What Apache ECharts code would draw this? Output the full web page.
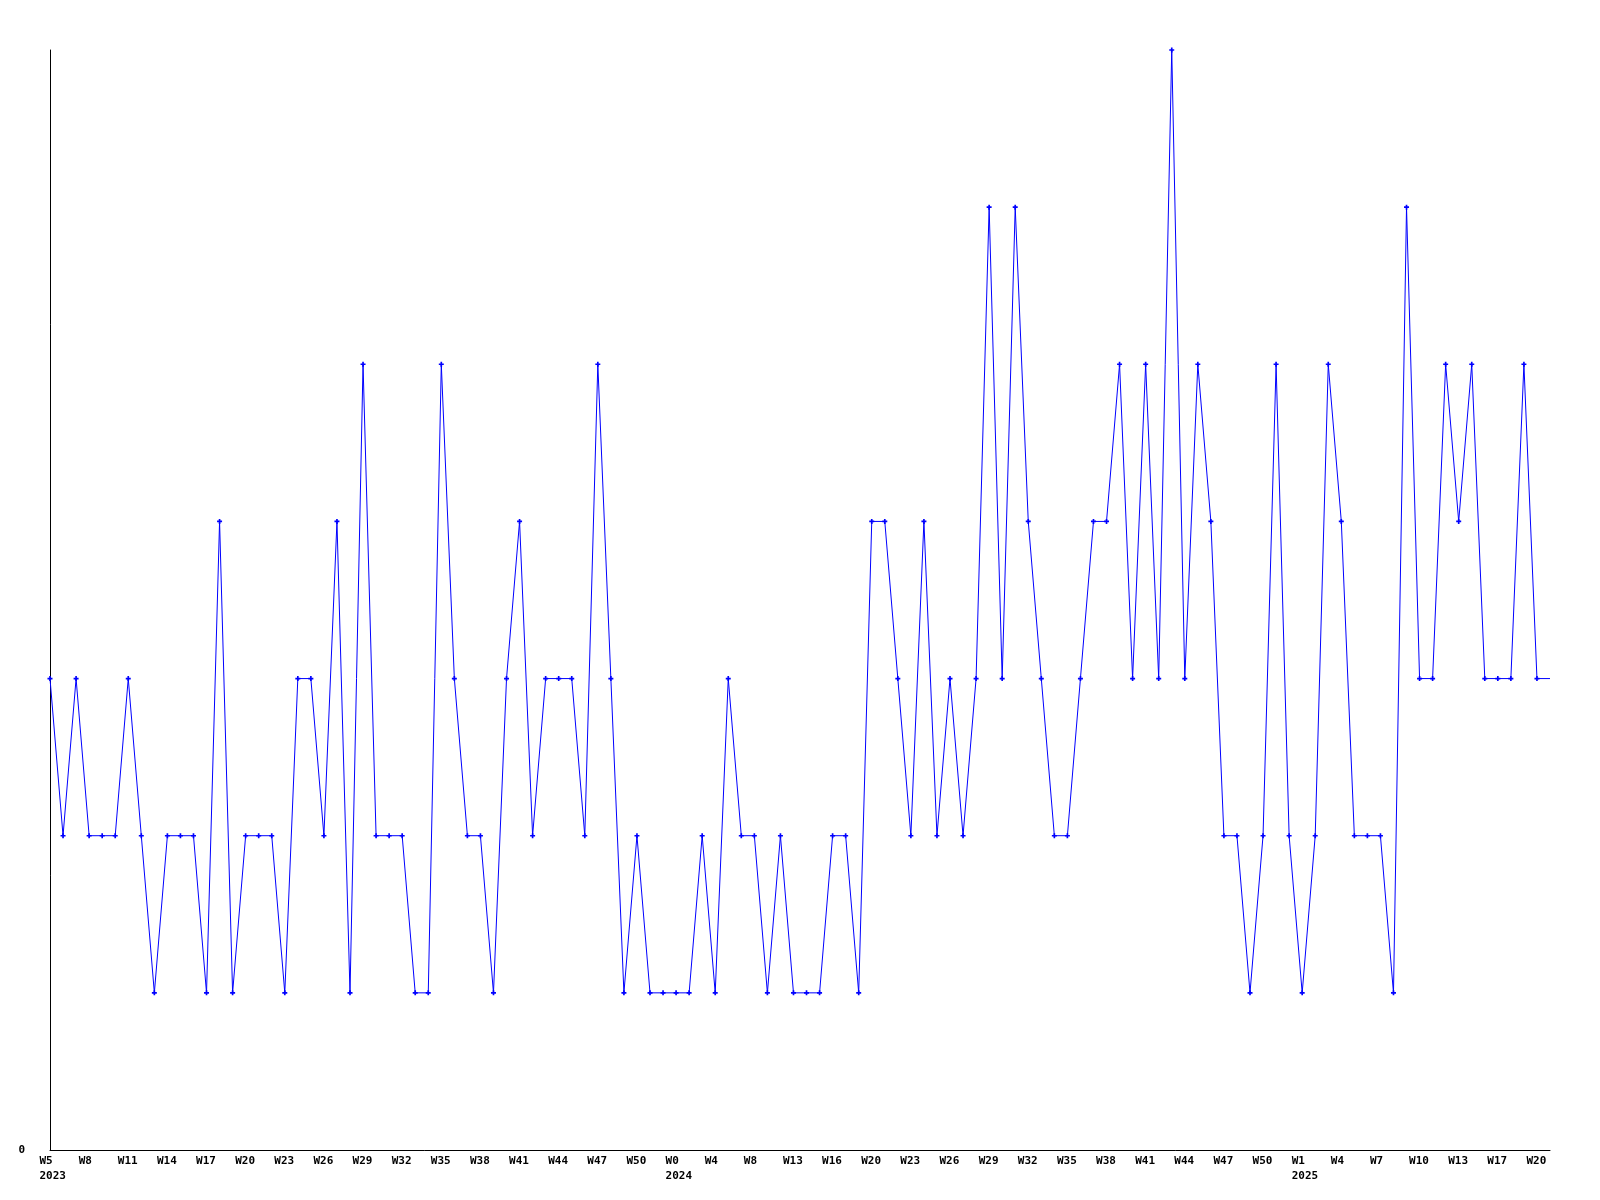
<!DOCTYPE html>
<html>
<head>
<meta charset="utf-8">
<script src="https://cdn.jsdelivr.net/npm/echarts@6/dist/echarts.min.js"></script>
<style>html,body{margin:0;padding:0;background:#fff}#c{width:1600px;height:1200px}</style>
</head>
<body>
<div id="c"></div>
<script>
// Week labels per year (categorical x axis)
var weeks2023 = ['W5','W6','W7','W8','W9','W10','W11','W12','W13','W14','W15','W16','W17','W18','W19','W20','W21','W22','W23','W24','W25','W26','W27','W28','W29','W30','W31','W32','W33','W34','W35','W36','W37','W38','W39','W40','W41','W42','W43','W44','W45','W46','W47','W48','W49','W50','W51','W52'];
var weeks2024 = ['W0','W1','W2','W4','W5','W6','W8','W10','W11','W13','W14','W15','W16','W17','W18','W20','W21','W22','W23','W24','W25','W26','W27','W28','W29','W30','W31','W32','W33','W34','W35','W36','W37','W38','W39','W40','W41','W42','W43','W44','W45','W46','W47','W48','W49','W50','W51','W52'];
var weeks2025 = ['W1','W2','W3','W4','W5','W6','W7','W8','W9','W10','W11','W12','W13','W14','W16','W17','W18','W19','W20','W21'];

var values = [3,2,3,2,2,2,3,2,1,2, 2,2,1,4,1,2,2,2,1,3, 3,2,4,1,5,2,2,2,1,1,
              5,3,2,2,1,3,4,2,3,3, 3,2,5,3,1,2,1,1,1,1, 2,1,3,2,2,1,2,1,1,1,
              2,2,1,4,4,3,2,4,2,3, 2,3,6,3,6,4,3,2,2,3, 4,4,5,3,5,3,7,3,5,4,
              2,2,1,2,5,2,1,2,5,4, 2,2,2,1,6,3,3,5,4,5, 3,3,3,5,3,3];

var yLabels = ['0'];

var categories = [];
weeks2023.forEach(function(w){ categories.push('2023|' + w); });
weeks2024.forEach(function(w){ categories.push('2024|' + w); });
weeks2025.forEach(function(w){ categories.push('2025|' + w); });

var seriesData = values.map(function(v, i){
  if (i === values.length - 1) return {value: v, symbol: 'none'};
  return v;
});

var FONT = '"DejaVu Sans Mono", "Liberation Mono", monospace';
var chart = echarts.init(document.getElementById('c'), null, {renderer: 'canvas'});
chart.setOption({
  animation: false,
  backgroundColor: '#ffffff',
  grid: {left: 50, right: 50, top: 50, bottom: 50, containLabel: false},
  xAxis: {
    type: 'category',
    data: categories,
    boundaryGap: false,
    axisLine: {show: true, lineStyle: {color: '#000', width: 1}},
    axisTick: {show: false},
    splitLine: {show: false},
    axisLabel: {
      interval: 2,
      margin: 4,
      color: '#000',
      formatter: function(val, idx){
        var p = val.split('|');
        var prev = idx >= 3 ? categories[idx - 3].split('|')[0] : null;
        var s = '{w|' + p[1] + '}';
        if (prev !== p[0]) s += '\n{w|' + p[0] + '}';
        return s;
      },
      rich: {
        w: {width: 21, align: 'left', fontFamily: FONT, fontWeight: 'bold', fontSize: 11, lineHeight: 15, color: '#000'}
      }
    }
  },
  yAxis: {
    type: 'value',
    min: 0,
    max: 7,
    interval: 1,
    axisLine: {show: true, lineStyle: {color: '#000', width: 1}},
    axisTick: {show: false},
    splitLine: {show: false},
    axisLabel: {
      margin: 25,
      color: '#000',
      fontFamily: FONT,
      fontWeight: 'bold',
      fontSize: 11,
      formatter: function(v){ return v === 0 ? yLabels[0] : ''; }
    }
  },
  series: [{
    type: 'line',
    data: seriesData,
    symbol: 'path://M2,0H4V2H6V4H4V6H2V4H0V2H2Z',
    symbolSize: 5,
    showSymbol: true,
    lineStyle: {color: '#0000ff', width: 1},
    itemStyle: {color: '#0000ff'},
    emphasis: {disabled: true}
  }]
});
</script>
</body>
</html>
